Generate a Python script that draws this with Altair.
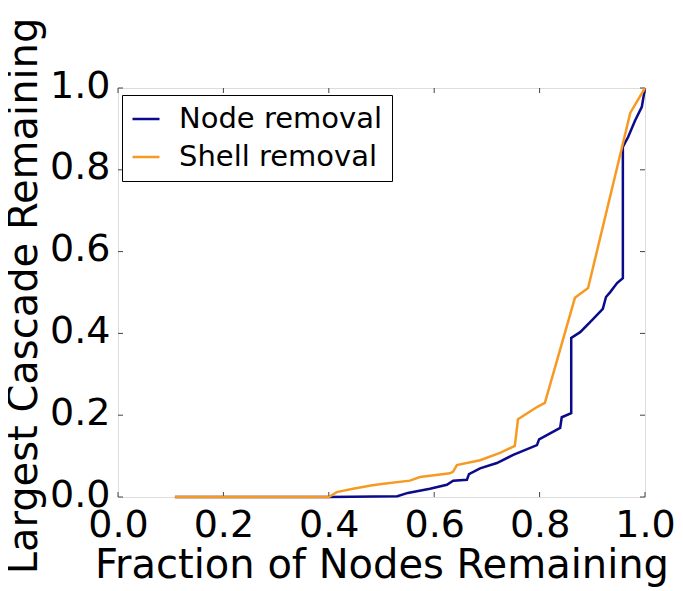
import altair as alt
import pandas as pd

node_x = [0.108, 0.40, 0.53, 0.55, 0.592, 0.624, 0.636, 0.662, 0.666, 0.687, 0.719, 0.75,
          0.795, 0.799, 0.839, 0.842, 0.86, 0.86, 0.877, 0.90, 0.92, 0.926, 0.934, 0.947,
          0.958, 0.958, 0.968, 0.981, 0.994, 1.0]
node_y = [0.0, 0.0, 0.002, 0.01, 0.02, 0.03, 0.04, 0.042, 0.056, 0.07, 0.083, 0.103,
          0.127, 0.141, 0.169, 0.195, 0.205, 0.389, 0.403, 0.433, 0.46, 0.489, 0.501, 0.523,
          0.535, 0.856, 0.88, 0.92, 0.954, 1.0]

shell_x = [0.108, 0.40, 0.415, 0.446, 0.48, 0.50, 0.554, 0.573, 0.63, 0.636, 0.643, 0.687,
           0.725, 0.753, 0.759, 0.795, 0.81, 0.867, 0.892, 0.972, 1.0]
shell_y = [0.0, 0.0, 0.012, 0.02, 0.028, 0.032, 0.04, 0.049, 0.058, 0.062, 0.078, 0.09,
           0.108, 0.125, 0.19, 0.22, 0.23, 0.487, 0.511, 0.939, 1.0]

series_names = ["Node removal", "Shell removal"]
series_colors = ["#0a0a8a", "#F79A23"]
tick_vals = [0.0, 0.2, 0.4, 0.6, 0.8, 1.0]

rows = []
for i, (x, y) in enumerate(zip(node_x, node_y)):
    rows.append({"x": x, "y": y, "series": series_names[0], "i": i})
for i, (x, y) in enumerate(zip(shell_x, shell_y)):
    rows.append({"x": x, "y": y, "series": series_names[1], "i": i})
df = pd.DataFrame(rows)
ticks_df = pd.DataFrame({"t": tick_vals})

W, H = 527, 409
FONT = "DejaVu Sans"

xscale = alt.Scale(domain=[0, 1], nice=False, zero=False)
yscale = alt.Scale(domain=[0, 1], nice=False, zero=False)

lines = alt.Chart(df).mark_line(strokeWidth=2.5).encode(
    x=alt.X("x:Q", scale=xscale, title="Fraction of Nodes Remaining",
            axis=alt.Axis(values=tick_vals, format=".1f", ticks=False, tickSize=0,
                          domain=False, grid=False, labelFont=FONT, labelFontSize=38,
                          labelColor="black", labelPadding=9, labelFlush=False,
                          labelOverlap=False,
                          titleFont=FONT, titleFontSize=40, titleFontWeight="normal",
                          titleColor="black", titleBaseline="alphabetic", titleY=80)),
    y=alt.Y("y:Q", scale=yscale, title="Largest Cascade Remaining",
            axis=alt.Axis(values=tick_vals, format=".1f", ticks=False, tickSize=0,
                          domain=False, grid=False, labelFont=FONT, labelFontSize=38,
                          labelColor="black", labelPadding=8, labelFlush=False,
                          labelOverlap=False, labelOffset=-2,
                          titleFont=FONT, titleFontSize=40, titleFontWeight="normal",
                          titleColor="black", titleBaseline="alphabetic", titleX=-82,
                          titleY=H / 2 + 3)),
    color=alt.Color("series:N", scale=alt.Scale(domain=series_names, range=series_colors),
                    legend=alt.Legend(title=None, orient="none", legendX=4, legendY=7,
                                      strokeColor="black", fillColor="white", padding=9,
                                      cornerRadius=0, labelFont=FONT, labelFontSize=29,
                                      labelColor="black", labelLimit=0, symbolType="stroke",
                                      symbolStrokeWidth=2.5, symbolSize=729,
                                      rowPadding=8, labelOffset=18)),
    order="i:Q",
)

tick_color = "#444444"
tl = 5
bottom_ticks = alt.Chart(ticks_df).mark_rule(color=tick_color, strokeWidth=1).encode(
    x=alt.X("t:Q", scale=xscale), y=alt.value(H), y2=alt.value(H - tl))
top_ticks = alt.Chart(ticks_df).mark_rule(color=tick_color, strokeWidth=1).encode(
    x=alt.X("t:Q", scale=xscale), y=alt.value(0), y2=alt.value(tl))
left_ticks = alt.Chart(ticks_df).mark_rule(color=tick_color, strokeWidth=1).encode(
    y=alt.Y("t:Q", scale=yscale), x=alt.value(0), x2=alt.value(tl))
right_ticks = alt.Chart(ticks_df).mark_rule(color=tick_color, strokeWidth=1).encode(
    y=alt.Y("t:Q", scale=yscale), x=alt.value(W), x2=alt.value(W - tl))

chart = alt.layer(bottom_ticks, top_ticks, left_ticks, right_ticks, lines).properties(
    width=W, height=H,
    autosize=alt.AutoSizeParams(type="none"),
    padding={"left": 110, "top": 80, "right": 30, "bottom": 94},
).configure_view(stroke="black", strokeWidth=1.2).configure(background="white")

chart.save("out.html", embed_options={"renderer": "svg", "actions": False})
